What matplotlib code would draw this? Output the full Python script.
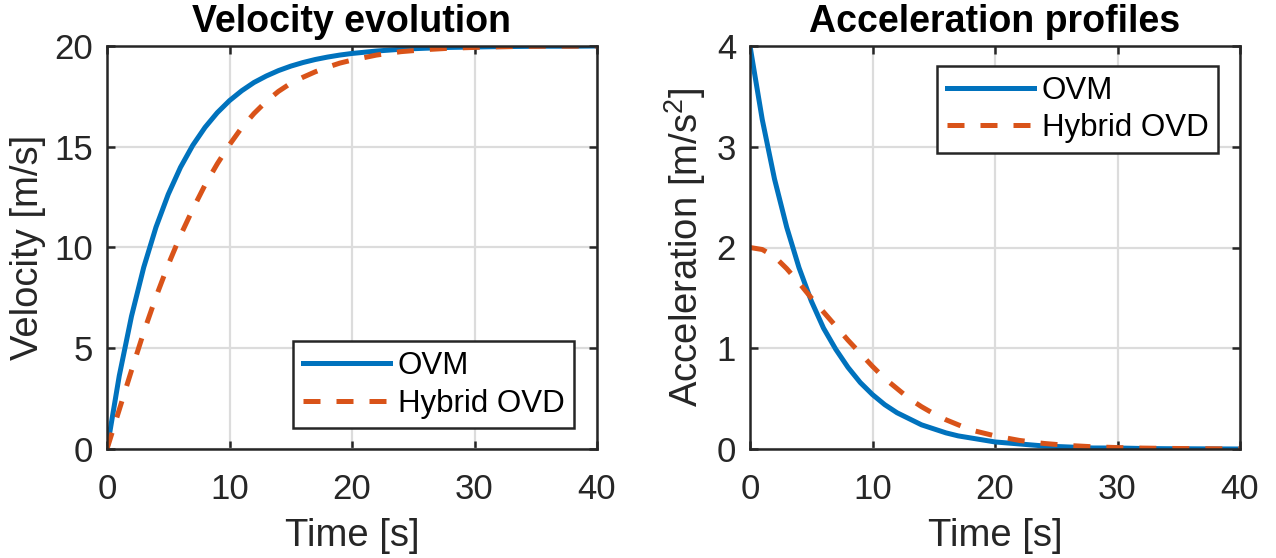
import matplotlib.pyplot as plt

plt.rcParams['font.family'] = ['Liberation Sans', 'DejaVu Sans']
plt.rcParams['mathtext.fontset'] = 'custom'
plt.rcParams['mathtext.rm'] = 'Liberation Sans'
plt.rcParams['mathtext.it'] = 'Liberation Sans'

# time samples [s]
t = [0, 1, 2, 3, 4, 5, 6, 7, 8, 9, 10, 11, 12, 13, 14, 15, 16, 17, 18, 19, 20,
     22, 24, 26, 28, 30, 32, 34, 36, 38, 40]

# velocity [m/s]
v_ovm = [0, 3.63, 6.59, 9.02, 11.01, 12.64, 13.98, 15.07, 15.96, 16.69, 17.29,
         17.78, 18.19, 18.51, 18.78, 19.00, 19.18, 19.33, 19.45, 19.55, 19.63,
         19.75, 19.84, 19.89, 19.93, 19.95, 19.97, 19.98, 19.99, 19.99, 20.0]
v_hyb = [0, 1.95, 3.9, 5.8, 7.55, 9.15, 10.6, 11.9, 13.1, 14.15, 15.1,
         15.95, 16.65, 17.25, 17.75, 18.15, 18.45, 18.72, 18.95, 19.15, 19.3,
         19.55, 19.72, 19.82, 19.89, 19.93, 19.96, 19.98, 19.99, 19.99, 20.0]

# acceleration [m/s^2]
a_ovm = [4.00, 3.27, 2.68, 2.20, 1.80, 1.47, 1.20, 0.99, 0.81, 0.66, 0.54,
         0.44, 0.36, 0.30, 0.24, 0.20, 0.16, 0.13, 0.11, 0.09, 0.07,
         0.05, 0.03, 0.02, 0.01, 0.01, 0.005, 0.003, 0.002, 0.001, 0.0]
a_hyb = [2.0, 1.98, 1.91, 1.79, 1.65, 1.50, 1.36, 1.22, 1.08, 0.95, 0.82,
         0.70, 0.60, 0.50, 0.42, 0.35, 0.29, 0.24, 0.19, 0.16, 0.13,
         0.085, 0.055, 0.035, 0.022, 0.014, 0.009, 0.006, 0.004, 0.002, 0.001]

blue = '#0072BD'
orange = '#D95319'
dark = '#262626'

fig = plt.figure(figsize=(12.76, 5.58), dpi=100)
ax1 = fig.add_axes([107/1276, 109/558, 490/1276, 403/558])
ax2 = fig.add_axes([750/1276, 109/558, 490/1276, 403/558])


def style(ax, ylim, yticks):
    ax.set_xlim(0, 40)
    ax.set_ylim(*ylim)
    ax.set_xticks([0, 10, 20, 30, 40])
    ax.set_yticks(yticks)
    ax.grid(True, color='#dcdcdc', lw=1.6)
    ax.set_axisbelow(True)
    for s in ax.spines.values():
        s.set_color(dark)
        s.set_linewidth(1.8)
        s.set_zorder(5)
    ax.tick_params(axis='both', direction='in', length=6, width=1.8, color=dark,
                   top=True, right=True, labelsize=25, labelcolor=dark)
    ax.tick_params(axis='x', pad=17)
    ax.tick_params(axis='y', pad=10)
    ax.set_xlabel('Time [s]', fontsize=27.5, color=dark, labelpad=9)


for ax, y1, y2 in [(ax1, v_ovm, v_hyb), (ax2, a_ovm, a_hyb)]:
    ax.plot(t, y1, color=blue, lw=3.6, label='OVM', zorder=3)
    ax.plot(t, y2, color=orange, lw=3.6, ls=(0, (3.4, 3.2)), label='Hybrid OVD', zorder=3)

style(ax1, (0, 20), [0, 5, 10, 15, 20])
style(ax2, (0, 4), [0, 1, 2, 3, 4])

ax1.set_ylabel('Velocity [m/s]', fontsize=27.5, color=dark, labelpad=6)
ax2.set_ylabel('Acceleration [m/s$^2$]', fontsize=27.5, color=dark, labelpad=6)
ax1.set_title('Velocity evolution', fontsize=27, fontweight='bold', pad=10)
ax2.set_title('Acceleration profiles', fontsize=27, fontweight='bold', pad=10)

for ax, loc, anchor in [(ax1, 'lower right', (0.953, 0.052)),
                        (ax2, 'upper right', (0.955, 0.950))]:
    leg = ax.legend(loc=loc, bbox_to_anchor=anchor, fontsize=22.5,
                    handlelength=2.8, handletextpad=0.25, borderpad=0.3,
                    labelspacing=0.25, fancybox=False, framealpha=1,
                    edgecolor=dark, borderaxespad=0)
    leg.get_frame().set_linewidth(1.8)
    for txt in leg.get_texts():
        txt.set_color('black')

fig.savefig('out.png', dpi=100)
